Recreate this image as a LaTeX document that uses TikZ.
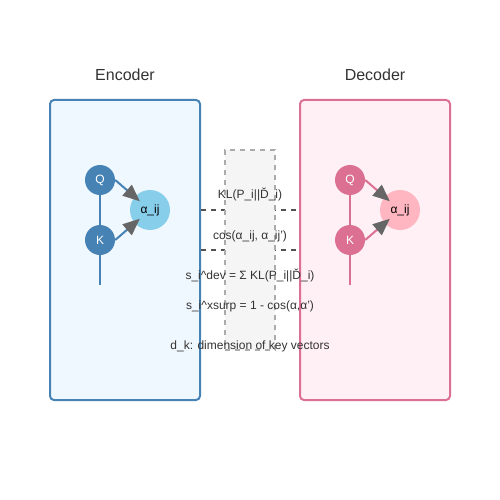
\documentclass[tikz,border=0pt]{standalone}
\usepackage{fontspec}
\setmainfont{Liberation Sans}
\usetikzlibrary{arrows.meta,calc}

\definecolor{encline}{HTML}{4682B4}
\definecolor{encfill}{HTML}{F0F8FF}
\definecolor{encalpha}{HTML}{87CEEB}
\definecolor{decline}{HTML}{DB7093}
\definecolor{decfill}{HTML}{FFF0F5}
\definecolor{decalpha}{HTML}{FFB6C1}
\definecolor{tipgray}{HTML}{666666}
\definecolor{textgray}{HTML}{333333}

\tikzset{
  panel/.style={draw=#1, line width=2pt, rounded corners=4pt, minimum width=150pt, minimum height=300pt, inner sep=0pt},
  title/.style={text=textgray, font=\fontsize{16}{19}\selectfont},
  vec/.style={circle, fill=#1, minimum size=30pt, inner sep=0pt, text=white, font=\fontsize{12}{14}\selectfont},
  att/.style={circle, fill=#1, minimum size=40pt, inner sep=0pt, text=black, font=\fontsize{12}{14}\selectfont},
  feed/.style={draw=#1, line width=2pt, -{Triangle[length=17pt, width=14pt, color=tipgray]}},
  stem/.style={draw=#1, line width=2pt},
  link/.style={draw=textgray!85, line width=1.5pt, dash pattern=on 5pt off 5pt},
  label/.style={text=textgray, font=\fontsize{12}{14}\selectfont}
}

\begin{document}
\begin{tikzpicture}[x=1pt, y=-1pt]
  \useasboundingbox (0, 0) rectangle (500, 500);

  % Panels
  \node [panel=encline, fill=encfill] (enc) at (125, 250) {};
  \node [panel=decline, fill=decfill] (dec) at (375, 250) {};
  \node [title] (enctitle) at (125, 75) {Encoder};
  \node [title] (dectitle) at (375, 75) {Decoder};

  % Links between the panels
  \coordinate (row1) at (0, 210);
  \coordinate (row2) at (0, 250);
  \draw [link] (enc.east |- row1) -- (dec.west |- row1);
  \draw [link] (enc.east |- row2) -- (dec.west |- row2);

  % Gap box
  \node [draw=black!33, fill=black!4, line width=1.5pt, dash pattern=on 5pt off 5pt,
         minimum width=50pt, minimum height=200pt, inner sep=0pt] (gap) at (250, 250) {};

  % Encoder attention
  \coordinate (encend) at (100, 285);
  \draw [stem=encline] (100, 180) -- (encend);
  \node [vec=encline] (qe) at (100, 180) {Q};
  \node [vec=encline] (ke) at (100, 240) {K};
  \node [att=encalpha] (ae) at (150, 210) {α\_ij};
  \draw [feed=encline] (qe.east) -- ($(qe.east)!0.71!(ae.center)$);
  \draw [feed=encline] (ke.east) -- ($(ke.east)!0.71!(ae.center)$);

  % Decoder attention
  \coordinate (decend) at (350, 285);
  \draw [stem=decline] (350, 180) -- (decend);
  \node [vec=decline] (qd) at (350, 180) {Q};
  \node [vec=decline] (kd) at (350, 240) {K};
  \node [att=decalpha] (ad) at (400, 210) {α\_ij};
  \draw [feed=decline] (qd.east) -- ($(qd.east)!0.71!(ad.center)$);
  \draw [feed=decline] (kd.east) -- ($(kd.east)!0.71!(ad.center)$);

  % Labels
  \node [label] (kl) at (250, 195) {KL(P\_i||Ď\_i)};
  \node [label] (cs) at (250, 236) {cos(α\_ij, α\_ij')};
  \node [label] (dev) at (250, 276) {s\_i\^{}dev = Σ KL(P\_i||Ď\_i)};
  \node [label] (surp) at (250, 306) {s\_i\^{}xsurp = 1 - cos(α,α')};
  \node [label] (dk) at (250, 346) {d\_k: dimension of key vectors};
\end{tikzpicture}
\end{document}
